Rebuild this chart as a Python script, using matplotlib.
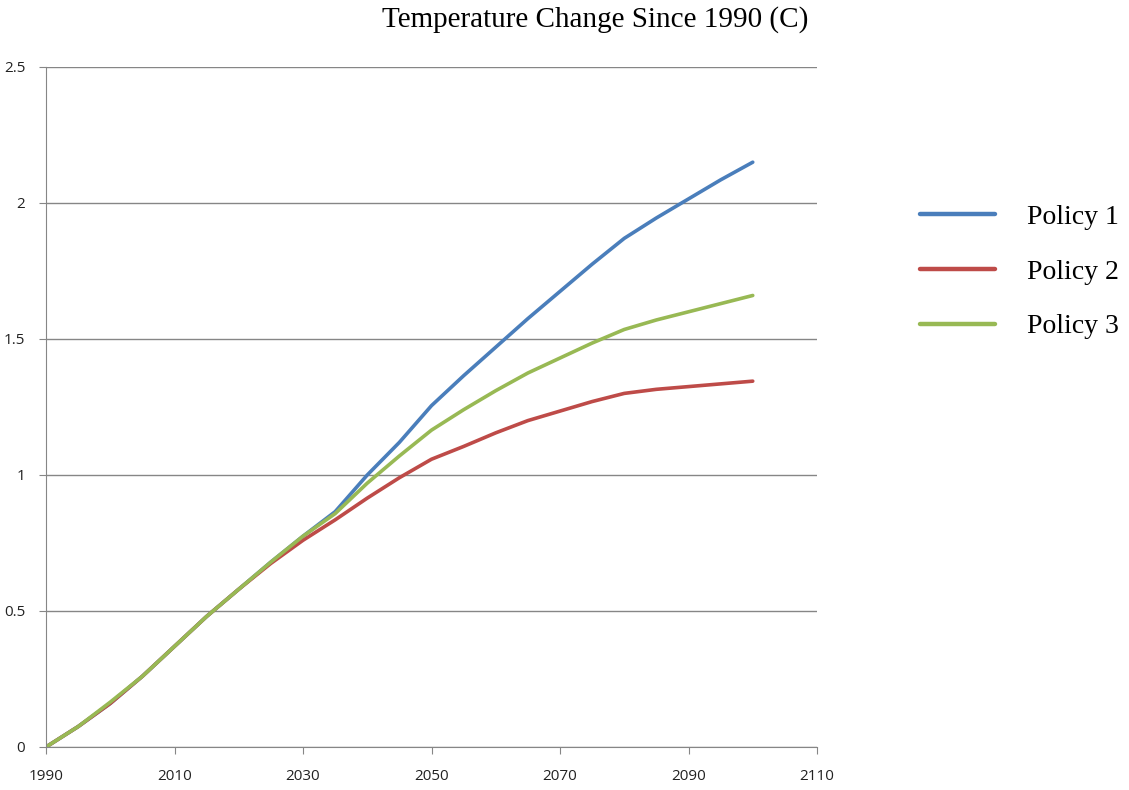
import matplotlib.pyplot as plt

years = list(range(1990, 2101, 5))
policy1 = [0, 0.075, 0.16, 0.26, 0.37, 0.48, 0.58, 0.68, 0.775, 0.865, 1.0, 1.12, 1.255,
           1.365, 1.47, 1.575, 1.675, 1.775, 1.87, 1.945, 2.015, 2.085, 2.15]
policy2 = [0, 0.075, 0.16, 0.26, 0.37, 0.48, 0.58, 0.675, 0.76, 0.835, 0.915, 0.99, 1.058,
           1.105, 1.155, 1.2, 1.235, 1.27, 1.3, 1.315, 1.325, 1.335, 1.345]
policy3 = [0, 0.075, 0.165, 0.26, 0.37, 0.48, 0.58, 0.68, 0.775, 0.858, 0.97, 1.07, 1.165,
           1.24, 1.31, 1.375, 1.43, 1.485, 1.535, 1.57, 1.6, 1.63, 1.66]
labels = ["Policy 1", "Policy 2", "Policy 3"]
colors = ["#4A7EBB", "#BE4B48", "#98B954"]

fig = plt.figure(figsize=(11.29, 7.9), dpi=100)
ax = fig.add_axes([46/1129, 43/790, 771/1129, 680/790])

for vals, lab, c in zip([policy1, policy2, policy3], labels, colors):
    ax.plot(years, vals, color=c, linewidth=2.6, label=lab, solid_capstyle="round")

ax.set_xlim(1990, 2110)
ax.set_ylim(0, 2.5)
ax.set_xticks(range(1990, 2111, 20))
ax.set_yticks([0, 0.5, 1, 1.5, 2, 2.5])
ax.set_yticklabels(["0", "0.5", "1", "1.5", "2", "2.5"])
ax.yaxis.grid(True, color="#868686", linewidth=1.0)
ax.set_axisbelow(True)
for s in ["top", "right"]:
    ax.spines[s].set_visible(False)
for s in ["left", "bottom"]:
    ax.spines[s].set_color("#868686")
ax.tick_params(axis="x", direction="out", length=5, color="#868686", pad=11,
               labelsize=11, labelcolor="#222222")
ax.tick_params(axis="y", direction="out", length=5, color="#868686", pad=10,
               labelsize=11, labelcolor="#222222")
for t in ax.get_xticklabels() + ax.get_yticklabels():
    t.set_fontfamily("Open Sans")

fig.text(595/1129, 1 - 20/790, "Temperature Change Since 1990 (C)", ha="center", va="center",
         fontsize=21, family="Liberation Serif")

leg = fig.legend(loc="center left", bbox_to_anchor=(895/1129, 1 - 272/790), frameon=False,
                 prop={"family": "Liberation Serif", "size": 20}, handlelength=2.7,
                 handletextpad=1.15, labelspacing=1.05)
for h in leg.get_lines():
    h.set_linewidth(3.2)

fig.savefig("out.png", dpi=100)
